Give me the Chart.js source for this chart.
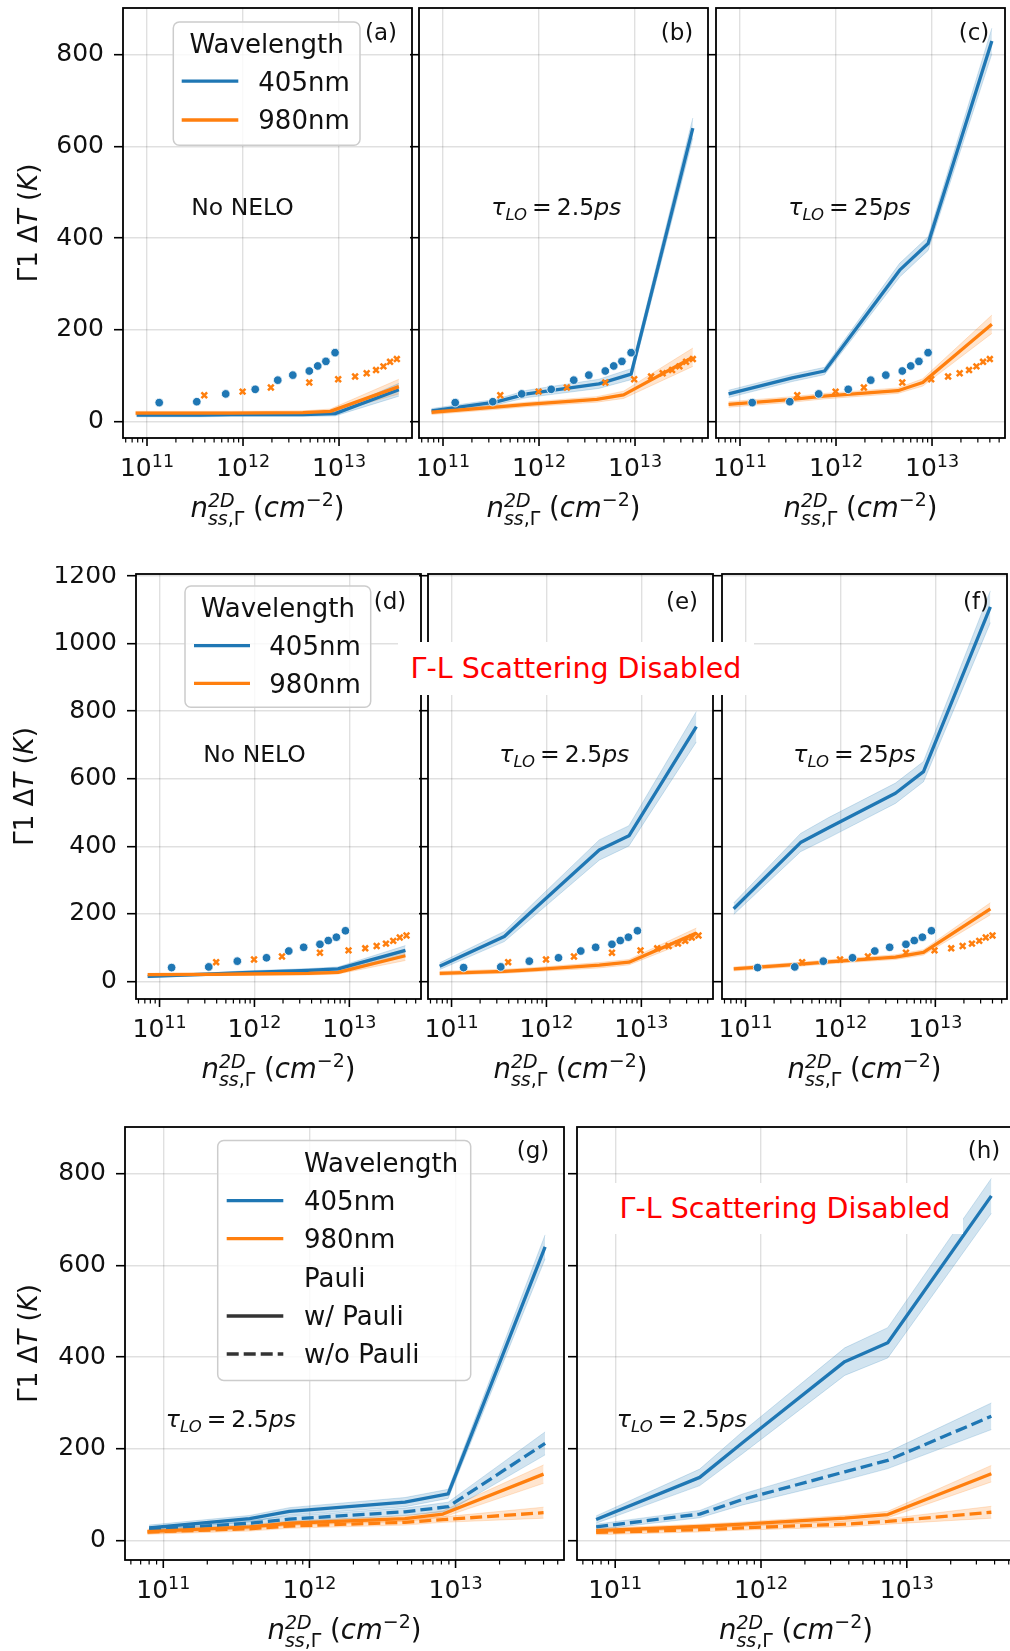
<!DOCTYPE html>
<html><head><meta charset="utf-8">
<script src="https://cdn.jsdelivr.net/npm/chart.js@4.4.1/dist/chart.umd.min.js"></script>
<style>
html,body{margin:0;padding:0;background:#fff;}
body{width:1010px;height:1651px;overflow:hidden;position:relative;}
canvas{position:absolute;}
.note{position:absolute;background:#fff;color:#ff0000;font-family:'DejaVu Sans';font-size:28.5px;display:flex;align-items:center;justify-content:center;white-space:nowrap;z-index:10;}
</style></head><body>
<div class="note" style="left:398px;top:642px;width:356px;height:53px;">Γ-L Scattering Disabled</div>
<div class="note" style="left:607px;top:1183px;width:356px;height:51px;">Γ-L Scattering Disabled</div>
<script>
// ---------------- DATA ----------------
const yTicks800 = [0, 200, 400, 600, 800];
const yTicks1200 = [0, 200, 400, 600, 800, 1000, 1200];
const xDecades = [1e11, 1e12, 1e13];

// experimental points (shown in panels a-f)
const expX405 = [1.34e11, 3.3e11, 6.6e11, 1.34e12, 2.3e12, 3.3e12, 4.9e12, 6.0e12, 7.3e12, 9.1e12];
const expY405 = [41, 43, 60, 70, 90, 101, 110, 121, 131, 150];
const expX980 = [3.95e11, 9.9e11, 1.95e12, 4.9e12, 9.8e12, 1.47e13, 1.94e13, 2.43e13, 2.9e13, 3.4e13, 4.0e13];
const expY980 = [57, 65, 74, 85, 92, 98, 105, 112, 120, 130, 136];

// (a) No NELO
const a405X = [7.8e10, 3.6e11, 7.5e11, 4.2e12, 9.1e12, 4.2e13];
const a405Y = [14, 14, 15, 15, 17, 69];
const a405E = [4, 4, 4, 4, 5, 14];
const a980X = [7.6e10, 3.6e11, 7.5e11, 4.2e12, 8.1e12, 4.2e13];
const a980Y = [18, 18, 18, 19, 22, 76];
const a980E = [4, 4, 4, 4, 5, 16];
// (b) tau 2.5ps
const b405X = [7.6e10, 3.5e11, 7.5e11, 4.2e12, 9.1e12, 4.0e13];
const b405Y = [23, 42, 60, 82, 103, 640];
const b405E = [5, 6, 8, 10, 12, 22];
const b980X = [7.6e10, 3.5e11, 7.5e11, 4.0e12, 7.6e12, 4.0e13];
const b980Y = [20, 31, 37, 48, 58, 140];
const b980E = [5, 5, 5, 6, 8, 20];
// (c) tau 25ps
const c405X = [7.6e10, 3.5e11, 7.6e11, 4.6e12, 9.1e12, 4.2e13];
const c405Y = [60, 95, 110, 330, 388, 830];
const c405E = [8, 8, 8, 15, 15, 28];
const c980X = [7.6e10, 3.5e11, 7.5e11, 4.4e12, 8.0e12, 4.2e13];
const c980Y = [37, 48, 55, 67, 85, 212];
const c980E = [6, 6, 6, 6, 8, 20];
// (d) No NELO, G-L disabled
const d405X = [7.5e10, 3.6e11, 7.5e11, 3.7e12, 7.6e12, 3.9e13];
const d405Y = [15, 22, 26, 33, 37, 92];
const d405E = [4, 4, 5, 5, 6, 14];
const d980X = [7.5e10, 3.6e11, 7.5e11, 3.7e12, 7.6e12, 3.9e13];
const d980Y = [20, 21, 22, 24, 27, 76];
const d980E = [4, 4, 4, 5, 5, 14];
// (e) tau 2.5ps, G-L disabled
const e405X = [7.5e10, 3.6e11, 7.5e11, 3.6e12, 7.4e12, 3.8e13];
const e405Y = [45, 133, 215, 389, 431, 754];
const e405E = [10, 15, 20, 30, 30, 45];
const e980X = [7.5e10, 3.6e11, 7.5e11, 3.6e12, 7.4e12, 3.8e13];
const e980Y = [24, 30, 35, 48, 57, 143];
const e980E = [6, 6, 6, 8, 8, 15];
// (f) tau 25ps, G-L disabled
const f405X = [7.5e10, 3.8e11, 7.5e11, 3.8e12, 7.5e12, 3.8e13];
const f405Y = [215, 411, 455, 557, 621, 1109];
const f405E = [17, 27, 30, 30, 30, 47];
const f980X = [7.5e10, 3.8e11, 7.5e11, 3.8e12, 7.5e12, 3.8e13];
const f980Y = [37, 51, 58, 72, 86, 215];
const f980E = [6, 6, 6, 7, 8, 18];
// (g) tau 2.5ps, with / without Pauli
const g405X = [8.0e10, 3.9e11, 7.3e11, 4.5e12, 8.9e12, 4.1e13];
const g405Y = [28, 48, 64, 84, 102, 640];
const g405E = [6, 7, 8, 10, 10, 26];
const g405nY = [24, 38, 47, 63, 74, 212];
const g405nE = [6, 6, 7, 8, 10, 25];
const g980X = [7.8e10, 3.9e11, 7.3e11, 4.5e12, 8.2e12, 4.0e13];
const g980Y = [20, 30, 38, 48, 58, 145];
const g980E = [5, 5, 5, 6, 7, 20];
const g980nY = [19, 26, 32, 40, 46, 61];
const g980nE = [5, 5, 5, 6, 6, 12];
// (h) tau 2.5ps, G-L disabled, with / without Pauli
const h405X = [7.4e10, 3.8e11, 7.5e11, 3.75e12, 7.4e12, 3.8e13];
const h405Y = [46, 138, 214, 390, 431, 751];
const h405E = [8, 18, 24, 30, 33, 38];
const h405nY = [30, 58, 90, 150, 175, 271];
const h405nE = [6, 8, 12, 18, 18, 29];
const h980X = [7.4e10, 3.8e11, 7.5e11, 3.75e12, 7.4e12, 3.8e13];
const h980Y = [22, 31, 36, 49, 57, 146];
const h980E = [5, 5, 5, 6, 7, 18];
const h980nY = [18, 24, 28, 36, 42, 62];
const h980nE = [5, 5, 5, 6, 6, 13];

// ---------------- STYLE / LAYOUT ----------------
const BLUE = '#1f77b4', ORANGE = '#ff7f0e', DARK = '#333333';
const BAND = {};
BAND[BLUE] = 'rgba(31,119,180,0.2)';
BAND[ORANGE] = 'rgba(255,127,14,0.2)';
const GRID = 'rgba(0,0,0,0.12)';
const FAM = "'DejaVu Sans'";

const R1 = {t:8, b:438, ymin:-36.2, ymax:902, yt:yTicks800, xmin:10.75, xmax:13.76, annY:207, letY:25.8, ytX:30};
const R2 = {t:574, b:999, ymin:-52, ymax:1206, yt:yTicks1200, xmin:10.752, xmax:13.755, annY:188, letY:29.3, ytX:26.7};
const R3 = {t:1127, b:1560, ymin:-42, ymax:901, yt:yTicks800, xmin:10.738, xmax:13.742, annY:300, letY:25.2, ytX:30};

const LEG1 = {dx:50.3, dy:14, w:186.7, h:123.3, lx0:8.4, lx1:65, tx:85,
  rows:[{title:'Wavelength', y:21.9}, {label:'405nm', c:BLUE, y:59.1}, {label:'980nm', c:ORANGE, y:98}]};
const LEG2 = {dx:49, dy:12, w:185.7, h:121.3, lx0:9, lx1:65, tx:84.3,
  rows:[{title:'Wavelength', y:21.3}, {label:'405nm', c:BLUE, y:59.7}, {label:'980nm', c:ORANGE, y:97.3}]};
const LEG3 = {dx:92.7, dy:13.4, w:253, h:240, lx0:9, lx1:65.6, tx:86.3,
  rows:[{label:'Wavelength', y:22}, {label:'405nm', c:BLUE, y:60.3}, {label:'980nm', c:ORANGE, y:98.3},
        {label:'Pauli', y:137.3}, {label:'w/ Pauli', c:DARK, y:175.6}, {label:'w/o Pauli', c:DARK, dash:true, y:213.6}]};

const S = (x, y, e, c, dash) => ({x, y, e, c, dash: !!dash});

const panels = [
  {id:'a', row:R1, l:123, r:412, yLabels:true, letter:'(a)', ann:'nonelo', annFrac:0.236, legend:LEG1, exp:true,
   series:[S(a405X,a405Y,a405E,BLUE), S(a980X,a980Y,a980E,ORANGE)]},
  {id:'b', row:R1, l:419, r:708, letter:'(b)', ann:'2.5', annFrac:0.25, exp:true,
   series:[S(b405X,b405Y,b405E,BLUE), S(b980X,b980Y,b980E,ORANGE)]},
  {id:'c', row:R1, l:716, r:1005, letter:'(c)', ann:'25', annFrac:0.25, exp:true,
   series:[S(c405X,c405Y,c405E,BLUE), S(c980X,c980Y,c980E,ORANGE)]},
  {id:'d', row:R2, l:136, r:421, yLabels:true, letter:'(d)', ann:'nonelo', annFrac:0.236, legend:LEG2, exp:true,
   series:[S(d405X,d405Y,d405E,BLUE), S(d980X,d980Y,d980E,ORANGE)]},
  {id:'e', row:R2, l:428, r:713, letter:'(e)', ann:'2.5', annFrac:0.25, exp:true,
   series:[S(e405X,e405Y,e405E,BLUE), S(e980X,e980Y,e980E,ORANGE)]},
  {id:'f', row:R2, l:722, r:1007, letter:'(f)', ann:'25', annFrac:0.25, exp:true,
   series:[S(f405X,f405Y,f405E,BLUE), S(f980X,f980Y,f980E,ORANGE)]},
  {id:'g', row:R3, l:125, r:564, yLabels:true, letter:'(g)', ann:'2.5', annFrac:0.093, legend:LEG3, exp:false,
   series:[S(g405X,g405Y,g405E,BLUE), S(g405X,g405nY,g405nE,BLUE,true), S(g980X,g980Y,g980E,ORANGE), S(g980X,g980nY,g980nE,ORANGE,true)]},
  {id:'h', row:R3, l:577, r:1015, letter:'(h)', ann:'2.5', annFrac:0.091, exp:false,
   series:[S(h405X,h405Y,h405E,BLUE), S(h405X,h405nY,h405nE,BLUE,true), S(h980X,h980Y,h980E,ORANGE), S(h980X,h980nY,h980nE,ORANGE,true)]}
];

// ---------------- HELPERS ----------------
function setFont(ctx, size, it) { ctx.font = (it ? 'italic ' : '') + size + 'px ' + FAM; }
function runW(ctx, runs) {
  let w = 0;
  for (const r of runs) {
    if (r.stack) { w += Math.max(...r.stack.map(s => runW(ctx, s))); continue; }
    setFont(ctx, r.size, r.it);
    w += (r.pre || 0) + ctx.measureText(r.t).width + (r.post || 0);
  }
  return w;
}
function drawRuns(ctx, runs, x, y) {
  let cx = x;
  for (const r of runs) {
    if (r.stack) {
      let mw = 0;
      for (const s of r.stack) { drawRuns(ctx, s, cx, y); mw = Math.max(mw, runW(ctx, s)); }
      cx += mw; continue;
    }
    setFont(ctx, r.size, r.it);
    cx += (r.pre || 0);
    ctx.fillText(r.t, cx, y + (r.dy || 0));
    cx += ctx.measureText(r.t).width + (r.post || 0);
  }
  return cx;
}
function tauRuns(v) {
  return [{t:'τ', size:23.5, it:true}, {t:'LO', size:16.5, it:true, dy:5},
          {t:'=', size:23.5, pre:5, post:5}, {t:v, size:23.5}, {t:'ps', size:23.5, it:true}];
}
const XTITLE = [{t:'n', size:27.5, it:true},
  {stack:[[{t:'2D', size:19, it:true, dy:-10}],
          [{t:'ss', size:19, it:true, dy:8}, {t:',', size:19, dy:8}, {t:'Γ', size:19, dy:8}]]},
  {t:' (', size:27.5}, {t:'cm', size:27.5, it:true}, {t:'−2', size:19, dy:-11}, {t:')', size:27.5}];
const YTITLE = [{t:'Γ1 Δ', size:26}, {t:'T', size:26, it:true}, {t:' (', size:26}, {t:'K', size:26, it:true}, {t:')', size:26}];

function drawLegend(ctx, ca, L) {
  const x0 = ca.left + L.dx, y0 = ca.top + L.dy, rr = 6;
  ctx.beginPath();
  ctx.moveTo(x0 + rr, y0); ctx.lineTo(x0 + L.w - rr, y0); ctx.arcTo(x0 + L.w, y0, x0 + L.w, y0 + rr, rr);
  ctx.lineTo(x0 + L.w, y0 + L.h - rr); ctx.arcTo(x0 + L.w, y0 + L.h, x0 + L.w - rr, y0 + L.h, rr);
  ctx.lineTo(x0 + rr, y0 + L.h); ctx.arcTo(x0, y0 + L.h, x0, y0 + L.h - rr, rr);
  ctx.lineTo(x0, y0 + rr); ctx.arcTo(x0, y0, x0 + rr, y0, rr); ctx.closePath();
  ctx.fillStyle = 'rgba(255,255,255,0.8)'; ctx.fill();
  ctx.strokeStyle = '#cccccc'; ctx.lineWidth = 1.5; ctx.stroke();
  ctx.fillStyle = '#111'; ctx.textBaseline = 'alphabetic';
  const fs = 26;
  for (const row of L.rows) {
    const by = y0 + row.y + 0.364 * fs;
    setFont(ctx, fs, false); ctx.fillStyle = '#111';
    if (row.title) {
      ctx.textAlign = 'center'; ctx.fillText(row.title, x0 + L.w / 2, by); ctx.textAlign = 'left';
      continue;
    }
    if (row.c) {
      ctx.save();
      ctx.strokeStyle = row.c; ctx.lineWidth = 3.3; ctx.lineCap = 'butt';
      if (row.dash) ctx.setLineDash([12, 5]);
      ctx.beginPath(); ctx.moveTo(x0 + L.lx0, y0 + row.y); ctx.lineTo(x0 + L.lx1, y0 + row.y); ctx.stroke();
      ctx.restore();
    }
    ctx.textAlign = 'left'; setFont(ctx, fs, false); ctx.fillStyle = '#111';
    ctx.fillText(row.label, x0 + L.tx, by);
  }
}

function decor(p) {
  const R = p.row;
  return {
    id: 'decor' + p.id,
    afterDraw(chart) {
      const ctx = chart.ctx, ca = chart.chartArea, xs = chart.scales.x;
      ctx.save();
      ctx.fillStyle = '#111'; ctx.strokeStyle = '#000';
      // minor / major x ticks
      for (let k = Math.floor(R.xmin); k <= Math.floor(R.xmax); k++) {
        for (let m = 1; m <= 9; m++) {
          const lv = k + Math.log10(m);
          if (lv < R.xmin || lv > R.xmax) continue;
          const px = xs.getPixelForValue(Math.pow(10, lv));
          ctx.lineWidth = m === 1 ? 1.6 : 1.2;
          ctx.beginPath(); ctx.moveTo(px, ca.bottom); ctx.lineTo(px, ca.bottom + (m === 1 ? 8 : 4.5)); ctx.stroke();
        }
      }
      // x tick labels 10^k
      ctx.textBaseline = 'alphabetic'; ctx.textAlign = 'left';
      for (const v of xDecades) {
        const k = Math.round(Math.log10(v));
        const runs = [{t:'10', size:25}, {t:String(k), size:17.5, dy:-9.5}];
        const w = runW(ctx, runs), px = xs.getPixelForValue(v);
        drawRuns(ctx, runs, px - w / 2, ca.bottom + 38);
      }
      // x title
      const xw = runW(ctx, XTITLE);
      drawRuns(ctx, XTITLE, (ca.left + ca.right) / 2 - xw / 2, ca.bottom + 79);
      // y title
      if (p.yLabels) {
        ctx.save();
        ctx.translate(R.ytX, (ca.top + ca.bottom) / 2);
        ctx.rotate(-Math.PI / 2);
        ctx.textBaseline = 'middle';
        const yw = runW(ctx, YTITLE);
        drawRuns(ctx, YTITLE, -yw / 2, 0);
        ctx.restore();
      }
      // frame
      ctx.lineWidth = 1.8; ctx.strokeStyle = '#000';
      ctx.strokeRect(ca.left, ca.top, ca.right - ca.left, ca.bottom - ca.top);
      // panel letter
      setFont(ctx, 23, false); ctx.textAlign = 'center'; ctx.textBaseline = 'middle';
      ctx.fillText(p.letter, ca.right - 31, ca.top + R.letY);
      // annotation
      ctx.textAlign = 'left'; ctx.textBaseline = 'alphabetic';
      const ax = ca.left + p.annFrac * (ca.right - ca.left), ay = ca.top + R.annY;
      if (p.ann === 'nonelo') { setFont(ctx, 23.5, false); ctx.fillText('No NELO', ax, ay); }
      else drawRuns(ctx, tauRuns(p.ann), ax, ay);
      // legend
      if (p.legend) drawLegend(ctx, ca, p.legend);
      ctx.restore();
    }
  };
}

function pts(xs, ys) { return xs.map((x, i) => ({x: x, y: ys[i]})); }

function buildDatasets(p) {
  const ds = [];
  p.series.forEach(s => {
    const band = BAND[s.c];
    ds.push({data: s.x.map((x, j) => ({x: x, y: s.y[j] - s.e[j]})), borderColor: band, borderWidth: 1,
             pointRadius: 0, fill: false, order: 20});
    ds.push({data: s.x.map((x, j) => ({x: x, y: s.y[j] + s.e[j]})), borderColor: band, borderWidth: 1,
             pointRadius: 0, fill: '-1', backgroundColor: band, order: 20});
  });
  p.series.forEach(s => {
    ds.push({data: pts(s.x, s.y), borderColor: s.c, borderWidth: 3.3, borderDash: s.dash ? [12, 5] : [],
             borderCapStyle: 'butt', borderJoinStyle: 'round', pointRadius: 0, fill: false,
             order: s.c === BLUE ? 6 : 5});
  });
  if (p.exp) {
    ds.push({data: pts(expX405, expY405), showLine: false, pointRadius: 4.3, pointStyle: 'circle',
             pointBackgroundColor: BLUE, pointBorderColor: '#ffffff', pointBorderWidth: 0.8, order: 2});
    ds.push({data: pts(expX980, expY980), showLine: false, pointRadius: 4, pointStyle: 'crossRot',
             pointBorderColor: ORANGE, pointBackgroundColor: ORANGE, pointBorderWidth: 2.5, order: 1});
  }
  return ds;
}

function makePanel(p) {
  const R = p.row;
  const padL = p.yLabels ? p.l : 14, padT = 8, padR = 6, padB = 92;
  const cv = document.createElement('canvas');
  const W = (p.r - p.l) + padL + padR, H = (R.b - R.t) + padT + padB;
  cv.width = W; cv.height = H;
  cv.style.left = (p.l - padL) + 'px'; cv.style.top = (R.t - padT) + 'px';
  cv.style.width = W + 'px'; cv.style.height = H + 'px';
  document.body.appendChild(cv);
  new Chart(cv.getContext('2d'), {
    type: 'line',
    data: {datasets: buildDatasets(p)},
    options: {
      responsive: false, maintainAspectRatio: false, animation: false, devicePixelRatio: 1,
      events: [],
      layout: {padding: {left: 0, top: padT, right: padR, bottom: 0}, autoPadding: false},
      plugins: {legend: {display: false}, tooltip: {enabled: false}, filler: {propagate: false}},
      elements: {line: {tension: 0}},
      scales: {
        x: {type: 'logarithmic', min: Math.pow(10, R.xmin), max: Math.pow(10, R.xmax),
            border: {display: false},
            grid: {color: GRID, lineWidth: 1.4, drawTicks: false},
            ticks: {display: false},
            afterBuildTicks: s => { s.ticks = xDecades.map(v => ({value: v})); },
            afterFit: s => { s.height = padB; s.paddingLeft = 0; s.paddingRight = 0; s.paddingTop = 0; s.paddingBottom = 0; }},
        y: {type: 'linear', min: R.ymin, max: R.ymax,
            border: {display: false},
            grid: {color: GRID, lineWidth: 1.4, drawTicks: true, tickLength: 9, tickColor: '#000', tickWidth: 1.6},
            ticks: {display: !!p.yLabels, autoSkip: false, color: '#111', padding: 10,
                    font: {family: FAM, size: 25}, callback: v => String(v)},
            afterBuildTicks: s => { s.ticks = R.yt.map(v => ({value: v})); },
            afterFit: s => { s.width = padL; s.paddingTop = 0; s.paddingBottom = 0; s.paddingLeft = 0; s.paddingRight = 0; }}
      }
    },
    plugins: [decor(p)]
  });
}

panels.forEach(makePanel);
</script>
</body></html>
